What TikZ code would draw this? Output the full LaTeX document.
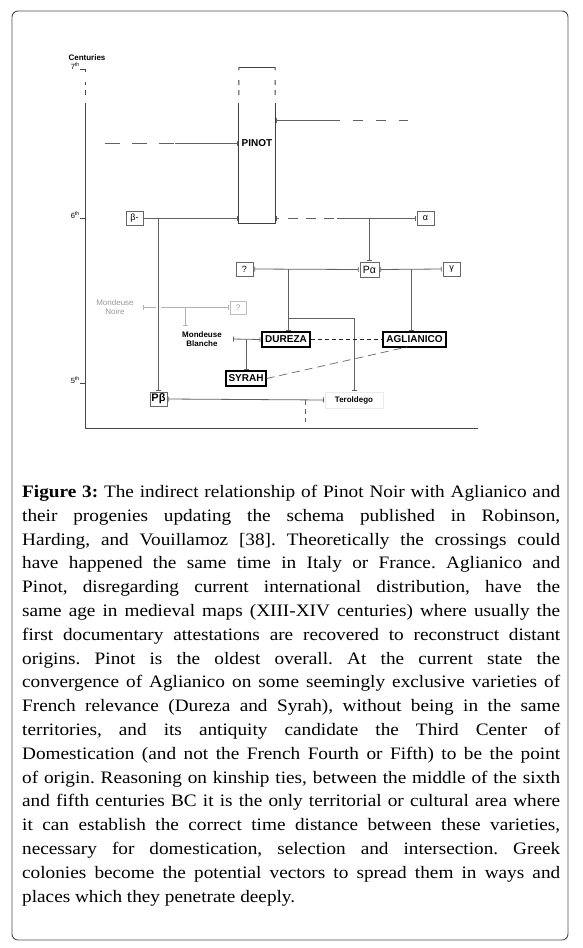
\documentclass[tikz,border=0pt]{standalone}
\usepackage{fontspec}
\setmainfont[FakeStretch=1.1]{Liberation Serif}
\newfontfamily\dfont{Liberation Sans}
\usetikzlibrary{arrows.meta}
\frenchspacing
\begin{document}
\begin{tikzpicture}[x=1pt,y=-1pt,
 ln/.style={draw=black!62, line width=0.8pt},
 gln/.style={draw=black!30, line width=0.8pt},
 tb/.style={-{Bar[width=5pt,line width=0.8pt]}, shorten >=1pt},
 bt/.style={{Bar[width=5pt,line width=0.8pt]}-, shorten <=1pt},
 tbb/.style={{Bar[width=5pt,line width=0.8pt]}-{Bar[width=5pt,line width=0.8pt]}, shorten <=1pt, shorten >=1pt},
 sbox/.style={draw=black!60, line width=0.7pt, minimum width=17pt, minimum height=14pt, inner sep=0pt, font=\dfont\fontsize{9}{10}\selectfont},
 bbox/.style={draw=black, line width=1.2pt, minimum height=15pt, inner sep=1.5pt, font=\dfont\bfseries\fontsize{10}{11}\selectfont},
 lbl/.style={font=\dfont\bfseries\fontsize{8}{9.5}\selectfont, align=center, inner sep=0pt},
 cent/.style={font=\dfont\fontsize{7.5}{8}\selectfont, anchor=east, inner sep=0pt},
 axis/.style={draw=black!72, line width=0.9pt},
]
\useasboundingbox (0,0) rectangle (582,948);
\draw[black!70, line width=0.9pt, rounded corners=6pt] (12,11) rectangle (568,940);

% ---------- axis ----------
\coordinate (ax7) at (85,69);
\coordinate (axs) at (85,103);
\coordinate (ax6) at (85,218);
\coordinate (ax5) at (85,383);
\coordinate (ax0) at (85,428);
\coordinate (axr) at (478,428);
\draw[axis, dash pattern=on 3pt off 10pt on 3pt off 5pt on 5pt off 8pt] (ax7) -- (axs);
\draw[axis] (axs) -- (ax0) -- (axr);
\draw[axis] (ax7) -- ++(-5,0);
\draw[axis] (ax6) -- ++(-5,0);
\draw[axis] (ax5) -- ++(-5,0);
\node[font=\dfont\bfseries\fontsize{8}{9}\selectfont, inner sep=0pt] (cent) at (87,58) {Centuries};
\node[cent] (c7) at (80,66) {7\textsuperscript{th}};
\node[cent] (c6) at (80,215) {6\textsuperscript{th}};
\node[cent] (c5) at (80,380) {5\textsuperscript{th}};

% ---------- PINOT ----------
\node[minimum width=36pt, minimum height=120pt, inner sep=0pt] (pinot) at (257,163) {};
\coordinate (ptl) at (239,67);
\coordinate (ptr) at (275,67);
\draw[black!75, line width=1pt] (pinot.north west) -- (pinot.south west) -- (pinot.south east) -- (pinot.north east);
\draw[black!75, line width=1pt] (ptl) -- (ptr);
\draw[black!75, line width=1pt, dash pattern=on 3pt off 10pt on 5pt off 5pt on 5pt off 8pt] (ptl) -- (pinot.north west);
\draw[black!75, line width=1pt, dash pattern=on 3pt off 10pt on 5pt off 5pt on 5pt off 8pt] (ptr) -- (pinot.north east);
\node[font=\dfont\bfseries\fontsize{10}{11}\selectfont, inner sep=0pt] (pinotlbl) at (257,143) {PINOT};

% ---------- small nodes ----------
\node[sbox] (beta) at (134.5,218) {β-};
\node[sbox, font=\dfont\bfseries\fontsize{11}{12}\selectfont] (pbeta) at (158.5,399) {Pβ};
\node[sbox] (alpha) at (425.5,218.5) {α};
\node[sbox, minimum width=19pt, minimum height=15pt, font=\dfont\fontsize{10.5}{12}\selectfont] (palpha) at (369.5,269.5) {Pα};
\node[sbox] (q1) at (244.5,269) {?};
\node[sbox] (gamma) at (451.5,269) {γ};
\node[sbox, draw=black!25, text=black!40, minimum width=16pt, minimum height=13pt, font=\dfont\fontsize{8}{9}\selectfont] (q2) at (238,307.5) {?};

\node[bbox, minimum width=48pt] (dureza) at (286,339.5) {DUREZA};
\node[bbox, minimum width=63pt] (aglianico) at (414.5,339.5) {AGLIANICO};
\node[bbox, minimum width=40pt] (syrah) at (246,378.5) {SYRAH};

\node[lbl, minimum width=60pt, minimum height=24pt] (mblanche) at (202,339) {Mondeuse\\Blanche};
\node[lbl, text=black!40, font=\dfont\fontsize{8}{9.5}\selectfont, minimum width=54pt] (mnoire) at (115,307) {Mondeuse\\Noire};
\node[lbl, draw=black!8, minimum width=58pt, minimum height=16pt] (terol) at (354,400) {Teroldego};

% ---------- connectors ----------
% left dashed line into PINOT
\coordinate (l0) at (105,143);
\coordinate (l1) at (175,143);
\draw[ln, dash pattern=on 15pt off 12pt] (l0) -- (l1);
\draw[ln, tb] (l1) -- (l1 -| pinot.west);
% right line out of PINOT
\coordinate (r1) at (340,120);
\coordinate (r2) at (353,120);
\coordinate (r3) at (408,120);
\draw[ln, bt] (pinot.east |- r1) -- (r1);
\draw[ln, dash pattern=on 10pt off 13pt] (r2) -- (r3);
% beta -> PINOT
\draw[ln, tb] (beta.east) -- (beta.east -| pinot.west);
\coordinate (bj) at (158.5,218);
\draw[ln, tb] (bj) -- (pbeta.north);
% PINOT -> alpha
\coordinate (a0) at (288,218.5);
\coordinate (a1) at (334,218.5);
\coordinate (a2) at (337,218.5);
\draw[ln, bt] (pinot.east |- a0) -- ++(4,0);
\draw[ln, dash pattern=on 10pt off 8pt] (a0) -- (a1);
\draw[ln, tb] (a2) -- (alpha.west);
\coordinate (aj) at (369.5,218.5);
\draw[ln, tb] (aj) -- (palpha.north);
% Palpha to ? and gamma
\draw[ln, tbb] (palpha.west) -- (q1.east);
\draw[ln, tbb] (palpha.east) -- (gamma.west);
% down to DUREZA and Teroldego
\coordinate (dj) at (288,269);
\coordinate (tj) at (288,318);
\coordinate (tk) at (354,318);
\draw[ln, tb] (dj) -- (dj |- dureza.north);
\draw[ln, tb] (tj) -- (tk) -- (terol.north);
% down to AGLIANICO
\coordinate (gj) at (411,269);
\draw[ln, tb] (gj) -- (gj |- aglianico.north);
% DUREZA - AGLIANICO
\draw[black!85, line width=0.8pt, dash pattern=on 4pt off 3pt] (dureza.east) -- (aglianico.west);
% SYRAH - AGLIANICO
\coordinate (ab) at (407,347);
\draw[black!55, line width=0.8pt, dash pattern=on 8pt off 5pt] (syrah.east) -- (ab);
% Mondeuse Blanche - DUREZA, SYRAH
\draw[ln, tbb] (mblanche.east) -- (dureza.west);
\coordinate (sj) at (246,339);
\draw[ln, tb] (sj) -- (syrah.north);
% Mondeuse Noire - ?
\coordinate (ng1) at (156,307.5);
\coordinate (ng2) at (160.5,307.5);
\draw[gln, bt] (mnoire.east |- ng1) -- (ng1);
\draw[gln, tb] (ng2) -- (q2.west);
\coordinate (nj) at (185,307.5);
\draw[gln, tb] (nj) -- (mblanche.north -| nj);
% Pbeta - Teroldego
\draw[ln, tbb] (pbeta.east) -- (terol.west);
\coordinate (td0) at (305,400);
\coordinate (td1) at (305,422);
\draw[ln, dash pattern=on 5pt off 4pt] (td0) -- (td1);

% ---------- caption ----------
\node[anchor=north west, inner sep=0pt, text width=538pt, align=justify,
      font=\fontsize{17.5}{23.8}\selectfont] (cap) at (22,485)
{\textbf{Figure 3:} The indirect relationship of Pinot Noir with Aglianico and\linebreak
their progenies updating the schema published in Robinson,\linebreak
Harding, and Vouillamoz [38]. Theoretically the crossings could\linebreak
have happened the same time in Italy or France. Aglianico and\linebreak
Pinot, disregarding current international distribution, have the\linebreak
same age in medieval maps (XIII-XIV centuries) where usually the\linebreak
first documentary attestations are recovered to reconstruct distant\linebreak
origins. Pinot is the oldest overall. At the current state the\linebreak
convergence of Aglianico on some seemingly exclusive varieties of\linebreak
French relevance (Dureza and Syrah), without being in the same\linebreak
territories, and its antiquity candidate the Third Center of\linebreak
Domestication (and not the French Fourth or Fifth) to be the point\linebreak
of origin. Reasoning on kinship ties, between the middle of the sixth\linebreak
and fifth centuries BC it is the only territorial or cultural area where\linebreak
it can establish the correct time distance between these varieties,\linebreak
necessary for domestication, selection and intersection. Greek\linebreak
colonies become the potential vectors to spread them in ways and\linebreak
places which they penetrate deeply.};
\end{tikzpicture}
\end{document}
